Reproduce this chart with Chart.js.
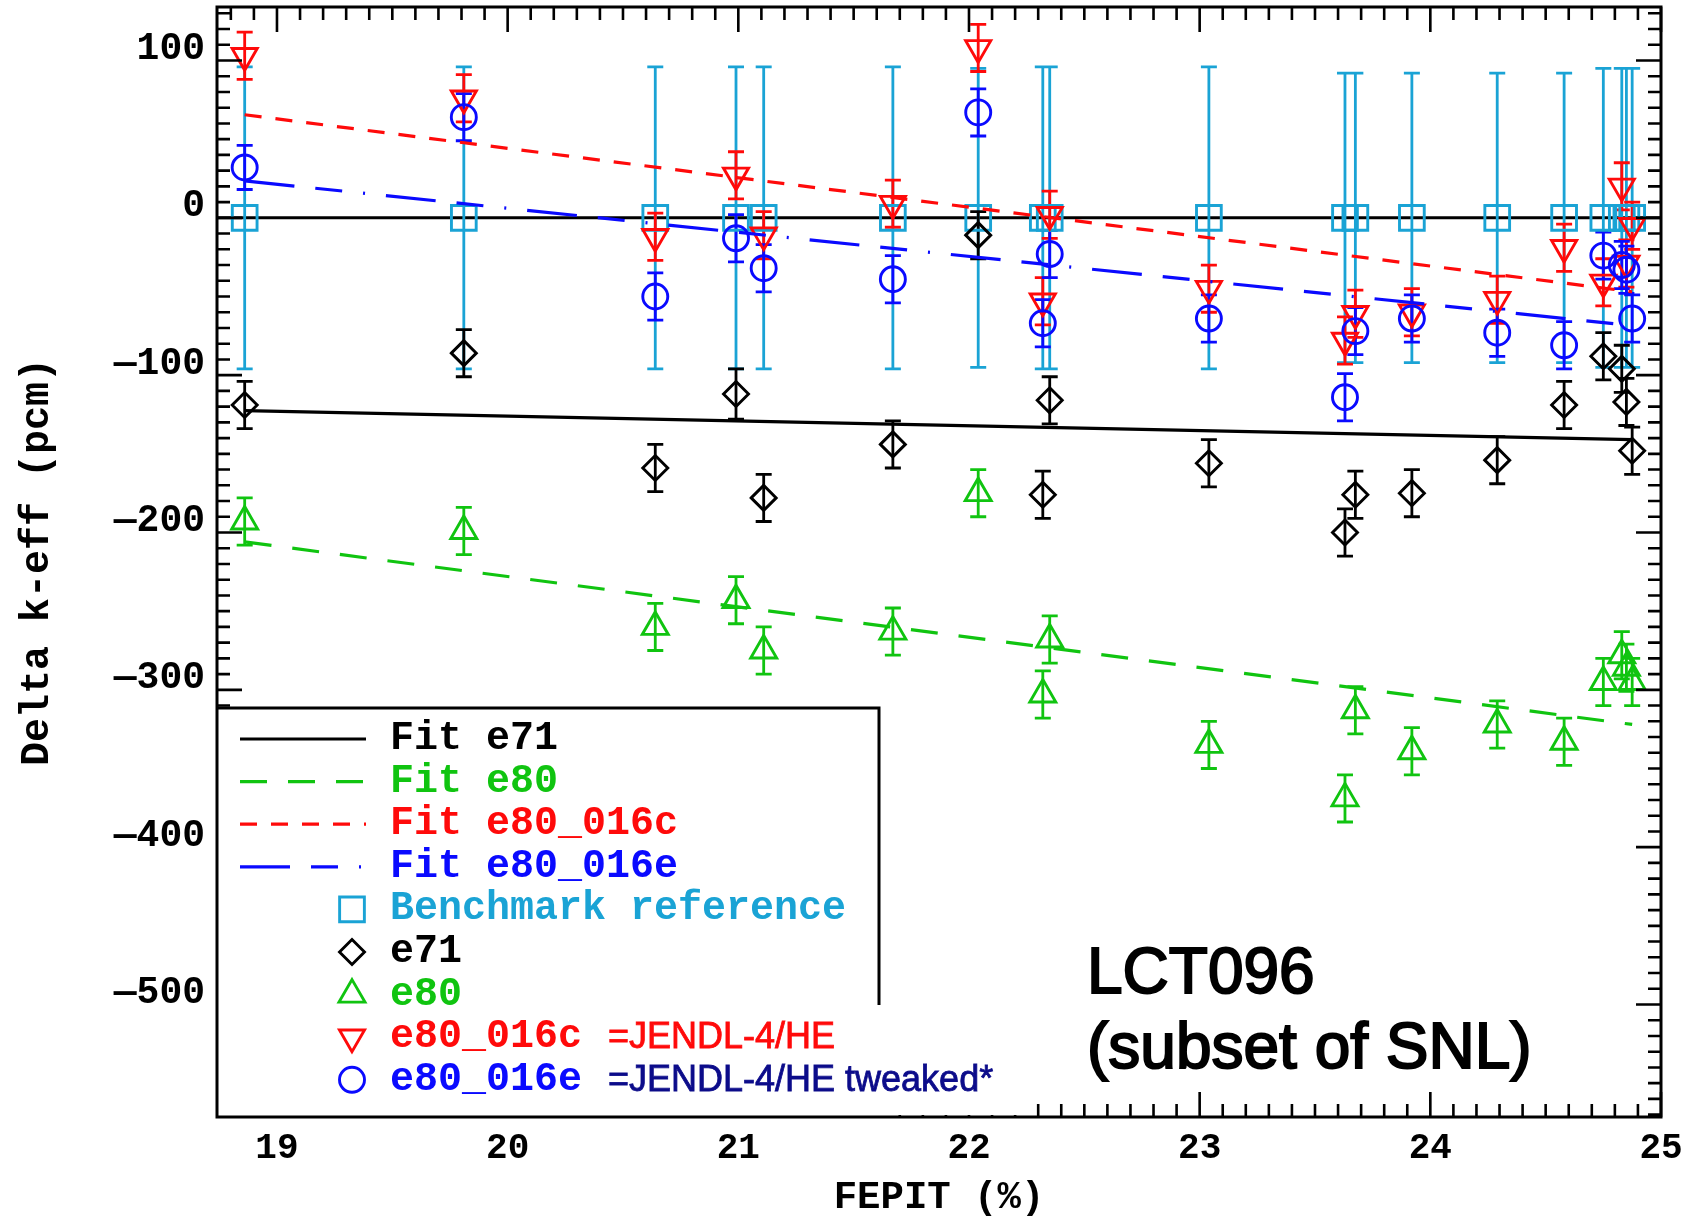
<!DOCTYPE html>
<html>
<head>
<meta charset="utf-8">
<title>LCT096 Delta k-eff vs FEPIT</title>
<style>
  html, body { margin: 0; padding: 0; background: #fff; }
  canvas { display: block; }
</style>
<script src="https://cdn.jsdelivr.net/npm/chart.js@4.4.1/dist/chart.umd.min.js"></script>
</head>
<body>
<canvas id="lct096" width="1691" height="1225"></canvas>
<script>
// Data (FEPIT in %, Delta k-eff in pcm)
const fepit = [18.86, 19.81, 20.64, 20.99, 21.11, 21.67, 22.04, 22.32, 22.35, 23.04,
               23.63, 23.675, 23.92, 24.29, 24.58, 24.75, 24.83, 24.85, 24.875];
const benchRef = [0, 0, 0, 0, 0, 0, 0, 0, 0, 0, 0, 0, 0, 0, 0, 0, 0, 0, 0];
const benchErr = [96, 96, 96, 96, 96, 96, 95, 96, 96, 96, 92, 92, 92, 92, 92, 95, 95, 95, 95];
const e71 = [-119, -86, -159, -112, -178, -144, -11, -176, -116, -156,
             -200, -176, -175, -154, -119, -88, -96, -117, -148];
const e71Err = [15, 15, 15, 16, 15, 15, 15, 15, 15, 15, 15, 15, 15, 15, 15, 15, 15, 15, 15];
const e80 = [-193, -199, -260, -243, -275, -263, -175, -303, -268, -335,
             -369, -313, -339, -322, -333, -295, -278, -286, -295];
const e80Err = [15, 15, 15, 15, 15, 15, 15, 15, 15, 15, 15, 15, 15, 15, 15, 15, 15, 15, 15];
const e80016c = [103, 76, -12, 27, -11, 9, 108, -53, 2, -45,
                 -78, -61, -60, -52, -19, -41, 20, -29, -5];
const e80016cErr = [15, 15, 15, 15, 15, 15, 15, 15, 15, 15, 15, 15, 15, 15, 15, 15, 15, 15, 15];
const e80016e = [32, 64, -50, -13, -32, -39, 67, -67, -23, -64,
                 -114, -72, -64, -73, -81, -24, -30, -33, -64];
const e80016eErr = [14, 15, 15, 15, 15, 15, 15, 15, 15, 15, 15, 15, 15, 15, 15, 15, 15, 15, 15];

// linear fits, values at the first and last FEPIT
const fitRange = [18.86, 24.875];
const fitE71 = [-122.5, -141];
const fitE80 = [-206, -322];
const fitE80016c = [65.5, -47];
const fitE80016e = [23.5, -68.5];

const xRange = [18.74, 25];
const yRange = [-571.5, 134];
const xTickValues = [19, 20, 21, 22, 23, 24, 25];
const yTickValues = [-500, -400, -300, -200, -100, 0, 100];

const legendLabels = ['Fit e71', 'Fit e80', 'Fit e80_016c', 'Fit e80_016e', 'Benchmark reference',
                      'e71', 'e80', 'e80_016c', 'e80_016e'];
const legendNotes = ['', '', '', '', '', '', '', '=JENDL-4/HE', '=JENDL-4/HE tweaked*'];
const caseLines = ['LCT096', '(subset of SNL)'];

// colours
const INK = '#000000';
const CYAN = '#1aa3d5';
const GREEN = '#10c410';
const RED = '#ff0a0a';
const BLUE = '#0a0aff';
const NAVY = '#0c0c8a';

const MONO = "'Liberation Mono', 'DejaVu Sans Mono', monospace";
const SANS = "'Liberation Sans', Arial, sans-serif";

const pts = ys => fepit.map((x, i) => ({ x: x, y: ys[i] }));
const fitPts = ys => fitRange.map((x, i) => ({ x: x, y: ys[i] }));

function fitSet(label, ys, color, dash, row) {
    return {
        label: label, data: fitPts(ys), showLine: true, fill: false, tension: 0,
        borderColor: color, borderWidth: 3.2, borderDash: dash,
        pointRadius: 0, order: 0, legendRow: row
    };
}

function markSet(label, ys, errs, color, style, radius, rotation, order, row) {
    return {
        label: label, data: pts(ys), errors: errs, errColor: color,
        pointStyle: style, pointRadius: radius, pointRotation: rotation,
        pointBorderColor: color, pointBackgroundColor: 'rgba(0,0,0,0)',
        pointBorderWidth: 2.9, order: order, legendRow: row
    };
}

const datasets = [
    fitSet('Fit e71', fitE71, INK, [], 0),
    fitSet('Fit e80', fitE80, GREEN, [27, 21], 1),
    fitSet('Fit e80_016c', fitE80016c, RED, [17, 14], 2),
    fitSet('Fit e80_016e', fitE80016e, BLUE, [50, 21, 27, 21, 2, 21], 3),
    markSet('e80_016e', e80016e, e80016eErr, BLUE, 'circle', 12.5, 0, 1, 8),
    markSet('e80_016c', e80016c, e80016cErr, RED, 'triangle', 14.5, 180, 2, 7),
    markSet('e80', e80, e80Err, GREEN, 'triangle', 15, 0, 3, 6),
    markSet('e71', e71, e71Err, INK, 'rectRot', 12.5, 0, 4, 5),
    markSet('Benchmark reference', benchRef, benchErr, CYAN, 'rect', 17.5, 0, 5, 4)
];

// IDL style decorations: zero line, error bars, inward ticks, frame, legend box, notes
const idlFrame = {
    id: 'idlFrame',
    beforeDatasetsDraw(chart) {
        const { ctx, chartArea: a, scales: { x, y } } = chart;
        ctx.save();
        const y0 = y.getPixelForValue(0);
        ctx.strokeStyle = INK;
        ctx.lineWidth = 3;
        ctx.beginPath();
        ctx.moveTo(a.left, y0);
        ctx.lineTo(a.right, y0);
        ctx.stroke();

        ctx.lineWidth = 2.8;
        chart.data.datasets.filter(d => d.errors)
            .sort((p, q) => q.order - p.order)
            .forEach(ds => {
                ctx.strokeStyle = ds.errColor;
                ctx.beginPath();
                ds.data.forEach((p, i) => {
                    const px = x.getPixelForValue(p.x);
                    const top = y.getPixelForValue(p.y + ds.errors[i]);
                    const bot = y.getPixelForValue(p.y - ds.errors[i]);
                    ctx.moveTo(px, top); ctx.lineTo(px, bot);
                    ctx.moveTo(px - 8, top); ctx.lineTo(px + 8, top);
                    ctx.moveTo(px - 8, bot); ctx.lineTo(px + 8, bot);
                });
                ctx.stroke();
            });
        ctx.restore();
    },
    afterDatasetsDraw(chart) {
        const { ctx, chartArea: a, scales: { x, y } } = chart;
        ctx.save();

        // inward ticks on all four sides
        ctx.strokeStyle = INK;
        ctx.lineWidth = 2.6;
        ctx.beginPath();
        for (let k = Math.ceil(yRange[0] / 10); k * 10 <= yRange[1]; k++) {
            const py = y.getPixelForValue(k * 10);
            const len = k % 10 === 0 ? 25 : 13;
            ctx.moveTo(a.left, py); ctx.lineTo(a.left + len, py);
            ctx.moveTo(a.right, py); ctx.lineTo(a.right - len, py);
        }
        for (let k = Math.ceil(xRange[0] * 10); k <= Math.round(xRange[1] * 10); k++) {
            const px = x.getPixelForValue(k / 10);
            const len = k % 10 === 0 ? 25 : 13;
            ctx.moveTo(px, a.top); ctx.lineTo(px, a.top + len);
            ctx.moveTo(px, a.bottom); ctx.lineTo(px, a.bottom - len);
        }
        ctx.stroke();

        // legend box and the pasted white patch next to it
        const boxRight = 879, boxTop = 708, patchRight = 1025, patchTop = 1005;
        ctx.fillStyle = '#fff';
        ctx.fillRect(a.left, boxTop, boxRight - a.left, a.bottom - boxTop);
        ctx.fillRect(boxRight - 2, patchTop, patchRight - boxRight + 2, a.bottom - patchTop - 2);
        ctx.lineWidth = 3;
        ctx.beginPath();
        ctx.moveTo(a.left, boxTop);
        ctx.lineTo(boxRight, boxTop);
        ctx.lineTo(boxRight, patchTop);
        ctx.stroke();

        // frame
        ctx.lineWidth = 3;
        ctx.strokeRect(a.left, a.top, a.right - a.left, a.bottom - a.top);

        // legend entries
        const rowY = i => 739 + i * 42.6;
        ctx.textBaseline = 'middle';
        ctx.textAlign = 'left';
        chart.data.datasets.forEach(ds => {
            const i = ds.legendRow;
            const cy = rowY(i);
            ctx.save();
            if (ds.showLine) {
                ctx.strokeStyle = ds.borderColor;
                ctx.lineWidth = ds.borderWidth;
                ctx.setLineDash(ds.borderDash);
                ctx.beginPath();
                ctx.moveTo(240, cy);
                ctx.lineTo(366, cy);
                ctx.stroke();
            } else {
                ctx.strokeStyle = ds.pointBorderColor;
                ctx.fillStyle = 'rgba(0,0,0,0)';
                ctx.lineWidth = ds.pointBorderWidth;
                Chart.helpers.drawPoint(ctx, {
                    pointStyle: ds.pointStyle, radius: ds.pointRadius,
                    rotation: ds.pointRotation, borderWidth: ds.pointBorderWidth
                }, 352, cy);
            }
            ctx.restore();
            const color = ds.showLine ? ds.borderColor : ds.pointBorderColor;
            ctx.fillStyle = color;
            ctx.font = 'bold 40px ' + MONO;
            ctx.fillText(legendLabels[i], 390, cy);
            if (legendNotes[i]) {
                ctx.font = '36px ' + SANS;
                ctx.fillStyle = i === 8 ? NAVY : RED;
                ctx.strokeStyle = ctx.fillStyle;
                ctx.lineWidth = 0.8;
                ctx.fillText(legendNotes[i], 608, cy + 1);
                ctx.strokeText(legendNotes[i], 608, cy + 1);
            }
        });

        // case annotation
        ctx.textBaseline = 'alphabetic';
        ctx.font = '64px ' + SANS;
        ctx.fillStyle = INK;
        ctx.strokeStyle = INK;
        ctx.lineWidth = 2;
        caseLines.forEach((t, i) => {
            ctx.fillText(t, 1087, 993 + i * 75);
            ctx.strokeText(t, 1087, 993 + i * 75);
        });
        ctx.restore();
    }
};

const chart = new Chart(document.getElementById('lct096').getContext('2d'), {
    type: 'scatter',
    data: { datasets: datasets },
    options: {
        responsive: false,
        animation: false,
        events: [],
        layout: { autoPadding: false, padding: { left: 0, right: 30, top: 7, bottom: 0 } },
        plugins: { legend: { display: false }, tooltip: { enabled: false } },
        scales: {
            x: {
                type: 'linear',
                min: xRange[0],
                max: xRange[1],
                grid: { display: false, drawTicks: false },
                border: { display: false },
                ticks: {
                    autoSkip: false, maxRotation: 0, minRotation: 0,
                    padding: 10, color: INK,
                    font: { family: MONO, weight: 'bold', size: 36 }
                },
                afterBuildTicks(s) { s.ticks = xTickValues.map(v => ({ value: v })); },
                title: {
                    display: true, text: 'FEPIT (%)', color: INK,
                    font: { family: MONO, weight: 'bold', size: 39 },
                    padding: { top: 0, bottom: 3 }
                },
                afterFit(s) { s.height = 108; s.paddingLeft = 0; s.paddingRight = 0; }
            },
            y: {
                type: 'linear',
                min: yRange[0],
                max: yRange[1],
                grid: { display: false, drawTicks: true, tickLength: 12 },
                border: { display: false },
                ticks: {
                    autoSkip: false,
                    padding: 0, labelOffset: -11, color: INK,
                    font: { family: MONO, weight: 'bold', size: 38, lineHeight: 0.25 },
                    callback: v => (v < 0 ? '\u2014' + Math.abs(v) : String(v))
                },
                afterBuildTicks(s) { s.ticks = yTickValues.map(v => ({ value: v })); },
                title: {
                    display: true, text: 'Delta k-eff (pcm)', color: INK,
                    font: { family: MONO, weight: 'bold', size: 40 },
                    padding: { top: 14, bottom: 0 }
                },
                afterFit(s) { s.width = 217; s.paddingTop = 0; s.paddingBottom = 0; }
            }
        }
    },
    plugins: [idlFrame]
});
</script>
</body>
</html>
